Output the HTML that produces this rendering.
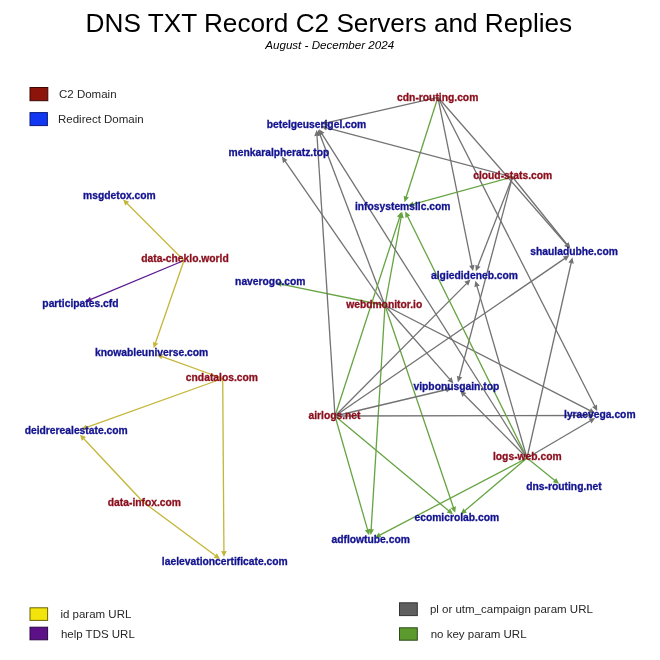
<!DOCTYPE html>
<html><head><meta charset="utf-8"><style>
html,body{margin:0;padding:0;background:#fff;}
svg{display:block;}
.lab text{font-family:"Liberation Sans",Arial,sans-serif;font-weight:bold;font-size:10.3px;text-anchor:middle;stroke-width:0.3px;}
.leg text{font-family:"Liberation Sans",Arial,sans-serif;font-size:11.5px;fill:#262626;}
</style></head><body>
<svg width="660" height="660" viewBox="0 0 660 660">
<rect width="660" height="660" fill="#fff"/>
<text x="328.9" y="31.7" text-anchor="middle" font-family="Liberation Sans, Arial, sans-serif" font-size="26.2" fill="#000">DNS TXT Record C2 Servers and Replies</text>
<text x="329.7" y="48.6" text-anchor="middle" font-family="Liberation Sans, Arial, sans-serif" font-size="11.6" font-style="italic" fill="#000">August - December 2024</text>
<g class="leg">
<rect x="30" y="87.5" width="17.8" height="13.2" fill="#8c140a" stroke="#3a0804" stroke-width="1"/>
<text x="59" y="98">C2 Domain</text>
<rect x="30" y="112.6" width="17.4" height="13" fill="#1237f2" stroke="#0a1b7a" stroke-width="1"/>
<text x="58" y="123.2">Redirect Domain</text>
<rect x="30" y="607.8" width="17.6" height="12.6" fill="#f3e40c" stroke="#6b6406" stroke-width="1"/>
<text x="60.4" y="617.7">id param URL</text>
<rect x="30" y="627.2" width="17.6" height="12.6" fill="#5c1188" stroke="#2b0844" stroke-width="1"/>
<text x="60.9" y="638.1">help TDS URL</text>
<rect x="399.5" y="602.8" width="17.8" height="12.8" fill="#5f5f5f" stroke="#333" stroke-width="1"/>
<text x="429.9" y="612.7">pl or utm_campaign param URL</text>
<rect x="399.5" y="627.8" width="17.8" height="12.4" fill="#5c9a30" stroke="#2c4a16" stroke-width="1"/>
<text x="430.7" y="638.4">no key param URL</text>
</g>
<g stroke-width="1.3" fill="none">
<line x1="184.00" y1="260.50" x2="126.57" y2="203.07" stroke="#c4b638"/>
<line x1="184.00" y1="260.50" x2="90.23" y2="299.65" stroke="#5a1a90"/>
<line x1="184.00" y1="260.50" x2="155.27" y2="343.55" stroke="#c4b638"/>
<line x1="222.70" y1="378.50" x2="161.41" y2="356.39" stroke="#c4b638"/>
<line x1="222.70" y1="378.50" x2="85.91" y2="427.62" stroke="#c4b638"/>
<line x1="222.70" y1="378.50" x2="223.93" y2="552.00" stroke="#c4b638"/>
<line x1="143.10" y1="502.00" x2="83.34" y2="438.29" stroke="#c4b638"/>
<line x1="143.10" y1="502.00" x2="215.97" y2="556.04" stroke="#c4b638"/>
<line x1="437.90" y1="97.30" x2="326.05" y2="122.78" stroke="#727272"/>
<line x1="437.90" y1="97.30" x2="406.03" y2="197.47" stroke="#66a442"/>
<line x1="437.90" y1="97.30" x2="472.02" y2="266.20" stroke="#727272"/>
<line x1="437.90" y1="97.30" x2="594.97" y2="406.58" stroke="#727272"/>
<line x1="437.90" y1="97.30" x2="566.92" y2="244.97" stroke="#727272"/>
<line x1="512.50" y1="177.00" x2="325.97" y2="127.56" stroke="#727272"/>
<line x1="512.50" y1="177.00" x2="412.64" y2="204.36" stroke="#66a442"/>
<line x1="512.50" y1="177.00" x2="567.22" y2="244.72" stroke="#727272"/>
<line x1="512.50" y1="177.00" x2="477.62" y2="266.68" stroke="#727272"/>
<line x1="512.50" y1="177.00" x2="459.27" y2="377.53" stroke="#727272"/>
<line x1="385.00" y1="305.50" x2="284.69" y2="160.72" stroke="#727272"/>
<line x1="385.00" y1="305.50" x2="319.86" y2="134.35" stroke="#727272"/>
<line x1="385.00" y1="305.50" x2="401.20" y2="216.84" stroke="#66a442"/>
<line x1="385.00" y1="305.50" x2="280.79" y2="284.02" stroke="#66a442"/>
<line x1="385.00" y1="305.50" x2="371.12" y2="530.02" stroke="#66a442"/>
<line x1="385.00" y1="305.50" x2="453.59" y2="508.03" stroke="#66a442"/>
<line x1="385.00" y1="305.50" x2="450.10" y2="379.68" stroke="#727272"/>
<line x1="385.00" y1="305.50" x2="590.60" y2="410.94" stroke="#727272"/>
<line x1="335.00" y1="416.00" x2="316.94" y2="134.98" stroke="#727272"/>
<line x1="335.00" y1="416.00" x2="399.91" y2="216.51" stroke="#66a442"/>
<line x1="335.00" y1="416.00" x2="466.95" y2="283.10" stroke="#727272"/>
<line x1="335.00" y1="416.00" x2="565.25" y2="258.15" stroke="#727272"/>
<line x1="335.00" y1="416.00" x2="446.97" y2="389.50" stroke="#727272"/>
<line x1="335.00" y1="416.00" x2="589.50" y2="415.52" stroke="#727272"/>
<line x1="335.00" y1="416.00" x2="367.75" y2="530.39" stroke="#66a442"/>
<line x1="335.00" y1="416.00" x2="449.12" y2="511.10" stroke="#66a442"/>
<line x1="527.00" y1="458.00" x2="321.65" y2="133.45" stroke="#727272"/>
<line x1="527.00" y1="458.00" x2="407.43" y2="215.97" stroke="#66a442"/>
<line x1="527.00" y1="458.00" x2="476.80" y2="285.60" stroke="#727272"/>
<line x1="527.00" y1="458.00" x2="571.29" y2="262.25" stroke="#727272"/>
<line x1="527.00" y1="458.00" x2="463.75" y2="394.30" stroke="#727272"/>
<line x1="527.00" y1="458.00" x2="590.87" y2="420.56" stroke="#727272"/>
<line x1="527.00" y1="458.00" x2="379.36" y2="535.36" stroke="#66a442"/>
<line x1="527.00" y1="458.00" x2="464.43" y2="511.03" stroke="#66a442"/>
<line x1="527.00" y1="458.00" x2="555.21" y2="480.73" stroke="#66a442"/>
</g>
<g>
<path d="M123.04,199.54 L129.26,201.80 L127.07,203.57 L125.30,205.76 Z" fill="#c4b638"/>
<path d="M85.61,301.57 L90.07,296.68 L90.87,299.38 L92.23,301.85 Z" fill="#5a1a90"/>
<path d="M153.63,348.27 L152.95,341.69 L155.50,342.89 L158.24,343.52 Z" fill="#c4b638"/>
<path d="M156.70,354.70 L163.30,354.10 L162.07,356.63 L161.40,359.37 Z" fill="#c4b638"/>
<path d="M81.21,429.31 L85.91,424.65 L86.57,427.38 L87.80,429.92 Z" fill="#c4b638"/>
<path d="M223.96,557.00 L221.12,551.02 L223.92,551.30 L226.72,550.98 Z" fill="#c4b638"/>
<path d="M79.92,434.65 L86.07,437.11 L83.82,438.80 L81.98,440.94 Z" fill="#c4b638"/>
<path d="M219.98,559.02 L213.50,557.70 L215.41,555.63 L216.83,553.20 Z" fill="#c4b638"/>
<path d="M321.18,123.89 L326.40,119.83 L326.73,122.62 L327.65,125.29 Z" fill="#727272"/>
<path d="M404.52,202.24 L403.67,195.67 L406.24,196.80 L409.00,197.37 Z" fill="#66a442"/>
<path d="M473.01,271.10 L469.08,265.77 L471.88,265.51 L474.57,264.66 Z" fill="#727272"/>
<path d="M597.24,411.04 L592.02,406.96 L594.65,405.96 L597.02,404.42 Z" fill="#727272"/>
<path d="M570.21,248.73 L564.15,246.06 L566.46,244.44 L568.37,242.37 Z" fill="#727272"/>
<path d="M321.13,126.28 L327.65,125.11 L326.64,127.74 L326.22,130.52 Z" fill="#727272"/>
<path d="M407.82,205.68 L412.87,201.39 L413.32,204.17 L414.35,206.79 Z" fill="#66a442"/>
<path d="M570.36,248.61 L564.41,245.70 L566.78,244.18 L568.76,242.18 Z" fill="#727272"/>
<path d="M475.81,271.34 L475.38,264.73 L477.88,266.03 L480.60,266.76 Z" fill="#727272"/>
<path d="M457.98,382.37 L456.82,375.85 L459.45,376.86 L462.23,377.29 Z" fill="#727272"/>
<path d="M281.85,156.61 L287.57,159.95 L285.09,161.30 L282.96,163.14 Z" fill="#727272"/>
<path d="M318.08,129.67 L322.83,134.28 L320.11,135.00 L317.60,136.28 Z" fill="#727272"/>
<path d="M402.10,211.92 L403.78,218.32 L401.08,217.53 L398.27,217.32 Z" fill="#66a442"/>
<path d="M275.90,283.01 L282.34,281.48 L281.48,284.16 L281.21,286.96 Z" fill="#66a442"/>
<path d="M370.81,535.01 L368.38,528.85 L371.16,529.32 L373.97,529.19 Z" fill="#66a442"/>
<path d="M455.20,512.76 L450.62,507.98 L453.37,507.37 L455.92,506.18 Z" fill="#66a442"/>
<path d="M453.40,383.44 L447.34,380.78 L449.64,379.16 L451.55,377.09 Z" fill="#727272"/>
<path d="M595.05,413.22 L588.43,412.97 L589.98,410.62 L590.99,407.99 Z" fill="#727272"/>
<path d="M316.62,129.99 L319.80,135.80 L316.99,135.68 L314.21,136.16 Z" fill="#727272"/>
<path d="M401.45,211.75 L402.26,218.33 L399.69,217.17 L396.93,216.59 Z" fill="#66a442"/>
<path d="M470.48,279.55 L468.24,285.78 L466.46,283.59 L464.26,281.83 Z" fill="#727272"/>
<path d="M569.38,255.33 L566.01,261.03 L564.67,258.55 L562.84,256.41 Z" fill="#727272"/>
<path d="M451.83,388.35 L446.64,392.46 L446.29,389.66 L445.35,387.01 Z" fill="#727272"/>
<path d="M594.50,415.51 L588.51,418.32 L588.80,415.52 L588.49,412.72 Z" fill="#727272"/>
<path d="M369.12,535.19 L364.78,530.20 L367.56,529.71 L370.16,528.65 Z" fill="#66a442"/>
<path d="M452.96,514.30 L446.56,512.61 L448.58,510.65 L450.14,508.31 Z" fill="#66a442"/>
<path d="M318.97,129.23 L324.55,132.80 L322.02,134.04 L319.82,135.79 Z" fill="#727272"/>
<path d="M405.21,211.48 L410.38,215.62 L407.74,216.59 L405.36,218.10 Z" fill="#66a442"/>
<path d="M475.40,280.80 L479.76,285.78 L476.99,286.27 L474.39,287.34 Z" fill="#727272"/>
<path d="M572.40,257.38 L573.80,263.85 L571.14,262.94 L568.34,262.61 Z" fill="#727272"/>
<path d="M460.22,390.75 L466.44,393.03 L464.24,394.79 L462.46,396.98 Z" fill="#727272"/>
<path d="M595.19,418.03 L591.43,423.48 L590.27,420.91 L588.59,418.65 Z" fill="#727272"/>
<path d="M374.93,537.68 L378.94,532.41 L379.98,535.03 L381.54,537.37 Z" fill="#66a442"/>
<path d="M460.61,514.27 L463.38,508.25 L464.96,510.58 L467.00,512.52 Z" fill="#66a442"/>
<path d="M559.11,483.86 L552.68,482.28 L554.67,480.29 L556.19,477.92 Z" fill="#66a442"/>
</g>
<g class="lab">
<text x="437.7" y="100.9" fill="#8a0e1c" stroke="#8a0e1c">cdn-routing.com</text>
<text x="316.5" y="128.2" fill="#13138f" stroke="#13138f">betelgeuserigel.com</text>
<text x="278.9" y="155.6" fill="#13138f" stroke="#13138f">menkaralpheratz.top</text>
<text x="512.7" y="179.3" fill="#8a0e1c" stroke="#8a0e1c">cloud-stats.com</text>
<text x="402.7" y="209.7" fill="#13138f" stroke="#13138f">infosystemsllc.com</text>
<text x="574.1" y="255.2" fill="#13138f" stroke="#13138f">shauladubhe.com</text>
<text x="474.5" y="279.0" fill="#13138f" stroke="#13138f">algiedideneb.com</text>
<text x="270.3" y="285.2" fill="#13138f" stroke="#13138f">naverogo.com</text>
<text x="384.2" y="307.8" fill="#8a0e1c" stroke="#8a0e1c">webdmonitor.io</text>
<text x="456.4" y="389.7" fill="#13138f" stroke="#13138f">vipbonusgain.top</text>
<text x="599.8" y="417.8" fill="#13138f" stroke="#13138f">lyraevega.com</text>
<text x="334.5" y="419.2" fill="#8a0e1c" stroke="#8a0e1c">airlogs.net</text>
<text x="527.3" y="460.1" fill="#8a0e1c" stroke="#8a0e1c">logs-web.com</text>
<text x="564.0" y="489.7" fill="#13138f" stroke="#13138f">dns-routing.net</text>
<text x="456.8" y="521.0" fill="#13138f" stroke="#13138f">ecomicrolab.com</text>
<text x="370.7" y="543.0" fill="#13138f" stroke="#13138f">adflowtube.com</text>
<text x="119.4" y="199.3" fill="#13138f" stroke="#13138f">msgdetox.com</text>
<text x="185.0" y="262.4" fill="#8a0e1c" stroke="#8a0e1c">data-cheklo.world</text>
<text x="80.4" y="307.1" fill="#13138f" stroke="#13138f">participates.cfd</text>
<text x="151.6" y="356.1" fill="#13138f" stroke="#13138f">knowableuniverse.com</text>
<text x="221.9" y="380.6" fill="#8a0e1c" stroke="#8a0e1c">cndatalos.com</text>
<text x="76.2" y="434.2" fill="#13138f" stroke="#13138f">deidrerealestate.com</text>
<text x="144.4" y="506.0" fill="#8a0e1c" stroke="#8a0e1c">data-infox.com</text>
<text x="224.8" y="565.3" fill="#13138f" stroke="#13138f">laelevationcertificate.com</text>
</g>
</svg>
</body></html>
